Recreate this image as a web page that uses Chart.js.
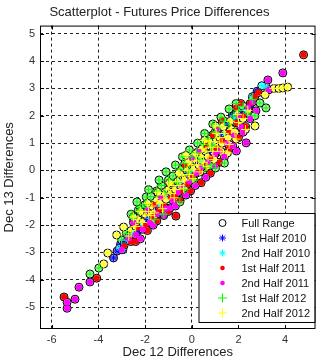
<!DOCTYPE html>
<html>
<head>
<meta charset="utf-8">
<script src="https://cdn.jsdelivr.net/npm/chart.js@4.4.1/dist/chart.umd.min.js"></script>
<style>
  html, body { margin: 0; padding: 0; background: #fff; }
  #wrap { width: 321px; height: 360px; }
</style>
</head>
<body>
<div id="wrap"><canvas id="scatterChart" width="321" height="360"></canvas></div>
<script>
// Valeurs (Dec 12 / Dec 13)
const xTicks = [-6, -4, -2, 0, 2, 4];
const yTicks = [-5, -4, -3, -2, -1, 0, 1, 2, 3, 4, 5];
const seriesLabels = ['Full Range', '1st Half 2010', '2nd Half 2010', '1st Half 2011', '2nd Half 2011', '1st Half 2012', '2nd Half 2012'];

const h1_2010 = [
    [-3.35, -3.2], [-3.2, -2.95], [-3.05, -2.7], [-2.9, -2.6], [-2.7, -2.4], [-2.3, -2.2], [-1.9, -1.8],
    [-1.5, -1.4], [-1.0, -0.9], [-0.6, -0.5], [-0.2, -0.1], [0.3, 0.3], [0.8, 0.7], [1.3, 1.3],
    [1.74, 2.03], [1.9, 1.8], [2.2, 2.1], [2.5, 2.4], [2.8, 2.9], [1.5, 1.7]
];
const h2_2010 = [
    [3.18, 3.06], [-3.1, -2.85], [-2.95, -2.9], [-2.75, -2.55], [-2.5, -2.3], [-2.2, -2.05], [-1.8, -1.75],
    [-1.4, -1.3], [-0.95, -1.0], [-0.5, -0.45], [-0.05, -0.05], [0.4, 0.35], [0.9, 0.9], [1.4, 1.35],
    [1.85, 1.95], [2.3, 2.2], [2.6, 2.7], [3.0, 3.1], [2.0, 2.35]
];
const h1_2011 = [
    [4.79, 4.23], [-5.47, -4.63], [-4.07, -3.94], [-0.68, -1.67],
    [-2.9, -2.75], [-2.6, -2.6], [-2.3, -2.1], [-2.0, -2.0], [-1.7, -1.7], [-1.4, -1.45], [-1.2, -1.3],
    [-0.9, -1.0], [-0.7, -0.95], [-0.45, -0.75], [-0.2, -0.5], [0.05, -0.2], [0.3, -0.05], [0.55, 0.15],
    [0.8, 0.45], [1.05, 0.8], [1.3, 1.1], [1.6, 1.4], [1.9, 1.75], [2.2, 2.0], [2.5, 2.45], [2.7, 2.7],
    [2.85, 2.85], [2.1, 2.45], [-1.6, -1.25], [0.6, 0.9], [1.3, 1.85],
    [-2.4, -2.6], [-1.9, -2.2], [-1.5, -1.85], [-1.0, -1.5], [-0.5, -1.1], [-0.05, -0.75], [0.4, -0.45],
    [0.8, -0.1], [1.2, 0.3], [1.6, 0.8], [2.0, 1.2], [2.3, 1.6], [-0.3, 0.2], [0.9, 1.3], [1.9, 2.3]
];
const h2_2011 = [
    [-5.34, -5.04], [-5.34, -4.82], [-5.0, -4.71], [-4.83, -4.27], [-4.36, -4.08], [3.9, 3.57], [3.26, 3.31],
    [3.3, 2.95], [2.75, 2.18], [2.33, 1.01], [1.91, 0.71], [-0.93, -1.37],
    [-3.0, -2.9], [-2.7, -2.5], [-2.4, -2.35], [-2.1, -2.15], [-1.8, -1.9], [-1.5, -1.6], [-1.3, -1.0],
    [-1.1, -1.4], [-0.8, -1.1], [-0.6, -0.8], [-0.4, -0.6], [-0.1, -0.4], [0.2, -0.1], [0.4, 0.1],
    [0.7, 0.3], [1.0, 0.6], [1.2, 0.7], [1.5, 1.0], [1.8, 1.3], [2.1, 1.6], [2.4, 2.3], [2.6, 2.5],
    [-2.5, -1.9], [0.3, 0.7], [2.0, 2.0],
    [-2.2, -2.5], [-1.65, -2.0], [-1.2, -1.65], [-0.7, -1.3], [-0.25, -0.9], [0.15, -0.55], [0.6, -0.25],
    [1.0, 0.15], [1.4, 0.5], [1.75, 0.9], [2.2, 1.4], [-1.9, -1.45], [0.0, 0.45], [1.1, 1.5], [2.5, 1.9]
];
const h1_2012 = [
    [-4.36, -3.79], [-3.98, -3.57], [2.92, 2.47], [3.18, 2.29], [1.4, 0.27], [1.02, 0.09], [-2.29, -1.45],
    [-1.95, -0.97], [-0.51, -1.15],
    [-2.8, -2.3], [-2.5, -1.75], [-2.2, -1.35], [-2.0, -1.25], [-1.75, -0.95], [-1.5, -0.75], [-1.3, -0.55],
    [-1.15, -0.8], [-1.0, -0.35], [-0.8, -0.2], [-0.65, -0.45], [-0.5, 0.05], [-0.3, 0.25], [-0.15, -0.05],
    [0.0, 0.5], [0.2, 0.65], [0.35, 0.4], [0.5, 0.95], [0.7, 1.15], [0.85, 0.9], [1.0, 1.4], [1.2, 1.6],
    [1.4, 1.8], [1.6, 1.7], [1.8, 2.0], [2.0, 2.2], [2.2, 2.35], [2.4, 2.1], [-1.6, -1.8], [-0.3, -0.7],
    [0.6, 0.1],
    [-2.6, -1.6], [-2.35, -1.15], [-1.85, -0.7], [-1.4, -0.35], [-1.1, -0.05], [-0.7, 0.2], [-0.4, 0.5],
    [-0.1, 0.75], [0.25, 1.0], [0.55, 1.35], [0.9, 1.7], [1.25, 1.95], [1.6, 2.25], [1.9, 2.45],
    [0.1, -0.35], [0.8, 0.2], [-1.2, -1.6], [2.6, 2.6], [-3.0, -2.55], [2.7, 2.0]
];
const h2_2012 = [
    [-3.77, -3.42], [-3.6, -3.02], [-3.22, -2.36], [-2.92, -2.07], [3.52, 3.0], [3.73, 3.0], [3.9, 3.02],
    [4.11, 3.05], [3.14, 2.77], [2.71, 1.63], [1.02, 1.63], [1.53, 0.64],
    [-2.6, -2.2], [-2.4, -2.05], [-2.3, -1.8], [-2.1, -1.9], [-2.0, -1.6], [-1.85, -1.5], [-1.7, -1.3],
    [-1.6, -1.55], [-1.5, -1.1], [-1.35, -1.2], [-1.2, -0.9], [-1.1, -1.05], [-1.0, -0.7], [-0.9, -0.85],
    [-0.8, -0.55], [-0.7, -0.7], [-0.6, -0.4], [-0.5, -0.55], [-0.4, -0.2], [-0.3, -0.35], [-0.2, 0.0],
    [-0.1, -0.15], [0.0, 0.2], [0.1, 0.05], [0.2, 0.35], [0.3, 0.2], [0.4, 0.5], [0.5, 0.3], [0.6, 0.7],
    [0.7, 0.5], [0.8, 0.85], [0.9, 0.7], [1.0, 1.05], [1.1, 0.85], [1.2, 1.2], [1.3, 1.0], [1.4, 1.35],
    [1.55, 1.2], [1.7, 1.5], [1.85, 1.4], [2.0, 1.75], [2.2, 1.9],
    [-2.2, -1.5], [-1.9, -1.2], [-1.75, -1.65], [-1.45, -0.8], [-1.25, -1.4], [-0.95, -0.45], [-0.75, -1.0],
    [-0.55, -0.1], [-0.35, -0.65], [-0.15, 0.3], [0.05, -0.3], [0.15, 0.6], [0.35, -0.05], [0.45, 0.8],
    [0.65, 0.15], [0.75, 1.05], [0.95, 0.4], [1.05, 1.35], [1.25, 0.7], [1.35, 1.6], [1.6, 0.95],
    [1.65, 1.8], [1.9, 1.15], [1.95, 2.05], [2.3, 1.5], [2.4, 2.2], [-2.5, -1.7], [-2.7, -2.4],
    [-0.25, 0.55], [0.55, 1.1]
];

const toPoints = arr => arr.map(([x, y]) => ({ x, y }));

// Série "Full Range" = toutes les périodes réunies
const periods = [h1_2010, h2_2010, h1_2011, h2_2011, h1_2012, h2_2012];
const tints = ['#9090ff', '#a0ffff', '#ff8080', '#ff90ff', '#a8f0a0', '#ffff90'];
const fullRange = [].concat(...periods);
const fullRangeFill = [].concat(...periods.map((p, i) => p.map(() => tints[i])));

// Styles des marqueurs (aussi utilisés pour la légende)
const styles = [
    { pointStyle: 'circle', pointRadius: 4, borderColor: '#000', borderWidth: 1, backgroundColor: fullRangeFill },
    { pointStyle: 'star', pointRadius: 3.5, borderColor: '#0000ff', borderWidth: 1, backgroundColor: '#0000ff' },
    { pointStyle: 'star', pointRadius: 3.5, borderColor: '#00ffff', borderWidth: 1, backgroundColor: '#00ffff' },
    { pointStyle: 'circle', pointRadius: 3, borderColor: '#ff0000', borderWidth: 0, backgroundColor: '#ff0000' },
    { pointStyle: 'circle', pointRadius: 3, borderColor: '#ff00ff', borderWidth: 0, backgroundColor: '#ff00ff' },
    { pointStyle: 'cross', pointRadius: 4.5, borderColor: '#00ff00', borderWidth: 1, backgroundColor: '#00ff00' },
    { pointStyle: 'cross', pointRadius: 4.5, borderColor: '#ffff00', borderWidth: 1, backgroundColor: '#ffff00' }
];

const allData = [fullRange, ...periods];
const datasets = allData.map((d, i) => Object.assign({
    label: seriesLabels[i],
    data: toPoints(d),
    order: allData.length - i   // Full Range dessous, 2nd Half 2012 dessus
}, styles[i]));

// Cadre, petits repères intérieurs et légende dans la zone du graphique
const framePlugin = {
    id: 'frame',
    afterDatasetsDraw(chart) {
        const { ctx, chartArea: a, scales } = chart;
        ctx.save();
        ctx.setLineDash([]);
        ctx.strokeStyle = '#000';
        ctx.lineWidth = 1;
        ctx.strokeRect(a.left + 0.5, a.top + 0.5, a.width - 1, a.height - 1);

        ctx.beginPath();
        xTicks.forEach(v => {
            const px = Math.round(scales.x.getPixelForValue(v)) + 0.5;
            ctx.moveTo(px, a.bottom); ctx.lineTo(px, a.bottom - 4);
            ctx.moveTo(px, a.top); ctx.lineTo(px, a.top + 4);
        });
        yTicks.forEach(v => {
            const py = Math.round(scales.y.getPixelForValue(v)) + 0.5;
            ctx.moveTo(a.left, py); ctx.lineTo(a.left + 4, py);
            ctx.moveTo(a.right, py); ctx.lineTo(a.right - 4, py);
        });
        ctx.stroke();

        // Légende
        const w = 116, h = 109;
        const lx = a.right - 1 - w, ly = a.bottom - 7 - h;
        ctx.fillStyle = '#fff';
        ctx.fillRect(lx, ly, w, h);
        ctx.strokeStyle = '#000';
        ctx.strokeRect(lx + 0.5, ly + 0.5, w, h);
        ctx.font = '11px "Liberation Sans", Arial, sans-serif';
        ctx.textBaseline = 'middle';
        ctx.textAlign = 'left';
        seriesLabels.forEach((label, i) => {
            const cy = ly + 10 + i * 15;
            const cx = lx + 24;
            const s = styles[i];
            ctx.save();
            ctx.beginPath();
            ctx.lineWidth = s.borderWidth;
            ctx.strokeStyle = s.borderColor;
            ctx.fillStyle = i === 0 ? 'rgba(0,0,0,0)' : s.backgroundColor;
            Chart.helpers.drawPoint(ctx, {
                pointStyle: s.pointStyle,
                radius: i === 0 ? 3.5 : (i === 3 || i === 4 ? 2.3 : s.pointRadius),
                borderWidth: s.borderWidth
            }, cx, cy);
            ctx.restore();
            ctx.fillStyle = '#111';
            ctx.fillText(label, lx + 43, cy + 1);
        });
        ctx.restore();
    }
};

const font = { family: '"Liberation Sans", Arial, sans-serif' };

new Chart(document.getElementById('scatterChart'), {
    type: 'scatter',
    data: { datasets },
    plugins: [framePlugin],
    options: {
        responsive: false,
        animation: false,
        layout: { padding: { left: 0, right: 2, top: 0, bottom: 0 } },
        plugins: {
            legend: { display: false },
            tooltip: { enabled: false },
            title: {
                display: true,
                text: 'Scatterplot - Futures Price Differences',
                color: '#222',
                font: { family: font.family, size: 13, weight: 'normal', lineHeight: 1.2 },
                padding: { top: 5, bottom: 5 }
            }
        },
        scales: {
            x: {
                type: 'linear',
                min: -6.5,
                max: 5.3,
                afterBuildTicks: s => { s.ticks = xTicks.map(v => ({ value: v })); },
                afterFit: s => { s.height = 31; },
                grid: { color: '#222', lineWidth: 1, drawTicks: false },
                border: { display: false, dash: [3, 3] },
                ticks: { color: '#333', padding: 4, font: { family: font.family, size: 11 } },
                title: {
                    display: true,
                    text: 'Dec 12 Differences',
                    color: '#222',
                    font: { family: font.family, size: 13, lineHeight: 1.2 },
                    padding: { top: 0, bottom: 0 }
                }
            },
            y: {
                type: 'linear',
                min: -5.8,
                max: 5.3,
                afterBuildTicks: s => { s.ticks = yTicks.map(v => ({ value: v })); },
                afterFit: s => { s.width = 40; },
                grid: { color: '#222', lineWidth: 1, drawTicks: false },
                border: { display: false, dash: [3, 3] },
                ticks: { color: '#333', padding: 5, font: { family: font.family, size: 11 } },
                title: {
                    display: true,
                    text: 'Dec 13 Differences',
                    color: '#222',
                    font: { family: font.family, size: 13, lineHeight: 1.2 },
                    padding: { top: 2, bottom: 0 }
                }
            }
        }
    }
});
</script>
</body>
</html>
